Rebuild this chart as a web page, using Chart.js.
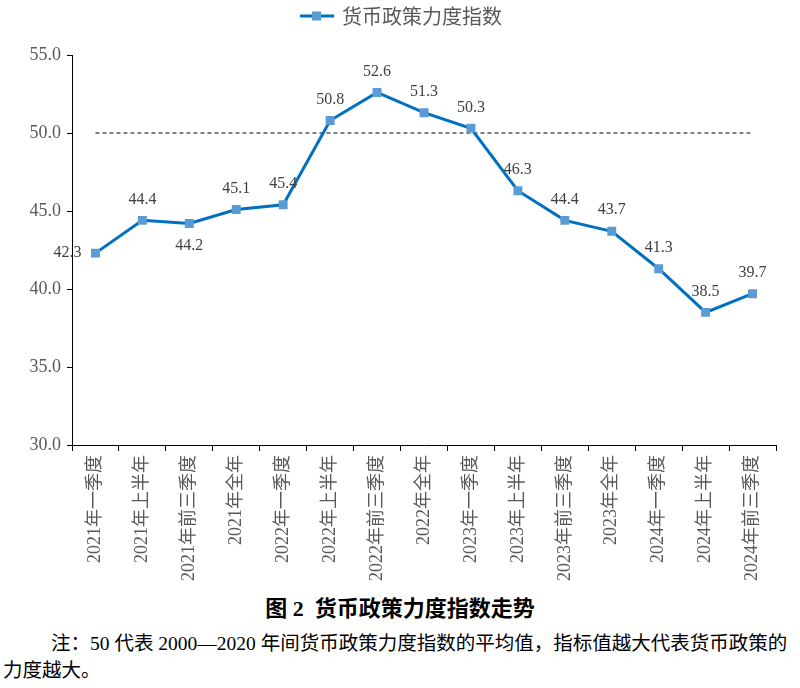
<!DOCTYPE html>
<html>
<head>
<meta charset="utf-8">
<script src="https://cdn.jsdelivr.net/npm/chart.js@4.4.1/dist/chart.umd.min.js"></script>
<style>
    html, body { margin: 0; padding: 0; background: #ffffff; }
    body { width: 800px; height: 688px; overflow: hidden; }
    .chart-box { position: relative; width: 800px; height: 590px; }
    .caption {
        text-align: center;
        font-family: 'Liberation Serif', 'Noto Sans CJK SC', serif;
        font-weight: bold;
        font-size: 22px;
        color: #000;
        margin-top: 4px;
        line-height: 30px;
    }
    .note {
        font-family: 'Liberation Serif', 'Noto Sans CJK SC', serif;
        font-size: 19.5px;
        color: #000;
        line-height: 27px;
        margin: 6px 0 0 3px;
        white-space: nowrap;
    }
    .note .first { padding-left: 48px; }
</style>
</head>
<body>
<div class="chart-box"><canvas id="mainChart"></canvas></div>
<div class="caption">图 2&nbsp; 货币政策力度指数走势</div>
<div class="note"><div class="first">注：50 代表 2000—2020 年间货币政策力度指数的平均值，指标值越大代表货币政策的</div><div>力度越大。</div></div>

<script>
const periods = [
    '2021年一季度', '2021年上半年', '2021年前三季度', '2021年全年',
    '2022年一季度', '2022年上半年', '2022年前三季度', '2022年全年',
    '2023年一季度', '2023年上半年', '2023年前三季度', '2023年全年',
    '2024年一季度', '2024年上半年', '2024年前三季度'
];
const policyIndex = [42.3, 44.4, 44.2, 45.1, 45.4, 50.8, 52.6, 51.3, 50.3, 46.3, 44.4, 43.7, 41.3, 38.5, 39.7];
const averageLine = [50, 50, 50, 50, 50, 50, 50, 50, 50, 50, 50, 50, 50, 50, 50];
const yTicks = [30, 35, 40, 45, 50, 55];

// where each value label sits relative to its point
const labelSide = ['left', 'up', 'down', 'up', 'up', 'up', 'up', 'up', 'up', 'up', 'up', 'up', 'up', 'up', 'up'];

const colors = {
    line: '#0070C0',
    marker: '#5B9BD5',
    text: '#595959',
    label: '#404040',
    axis: '#000000'
};

const serif = "'Liberation Serif', 'Noto Sans CJK SC', serif";

// legend symbol: line with a square in the middle
function legendSymbol() {
    const c = document.createElement('canvas');
    c.width = 34;
    c.height = 12;
    const g = c.getContext('2d');
    g.strokeStyle = colors.line;
    g.lineWidth = 3;
    g.beginPath();
    g.moveTo(0, 6);
    g.lineTo(34, 6);
    g.stroke();
    g.fillStyle = colors.marker;
    g.fillRect(12, 1.5, 9, 9);
    return c;
}

// the legend sits at the very top of the picture, a bit right of centre
const legendShift = {
    id: 'legendShift',
    afterLayout(chart) {
        const lg = chart.legend;
        if (!lg) return;
        const dy = lg.top;
        lg.top -= dy;
        lg.bottom -= dy;
        lg.left += 14;
        lg.right += 14;
    }
};

const valueLabels = {
    id: 'valueLabels',
    afterDatasetsDraw(chart) {
        const ctx = chart.ctx;
        const meta = chart.getDatasetMeta(0);
        ctx.save();
        ctx.font = '16px ' + serif;
        ctx.fillStyle = colors.label;
        ctx.textAlign = 'center';
        ctx.textBaseline = 'middle';
        meta.data.forEach((pt, i) => {
            let x = pt.x, y = pt.y;
            if (labelSide[i] === 'left') x -= 28;
            else if (labelSide[i] === 'down') y += 22;
            else y -= 21;
            ctx.fillText(policyIndex[i].toFixed(1), x, y);
        });
        ctx.restore();
    }
};

const ctx = document.getElementById('mainChart').getContext('2d');
const chart = new Chart(ctx, {
    type: 'line',
    data: {
        labels: periods,
        datasets: [
            {
                label: '货币政策力度指数',
                data: policyIndex,
                borderColor: colors.line,
                backgroundColor: colors.marker,
                borderWidth: 3,
                tension: 0,
                pointStyle: 'rect',
                pointRadius: 6.3,
                pointBackgroundColor: colors.marker,
                pointBorderColor: colors.marker,
                pointBorderWidth: 0,
                order: 1
            },
            {
                label: 'avg',
                data: averageLine,
                borderColor: '#000000',
                borderWidth: 1,
                borderDash: [4, 3],
                pointRadius: 0,
                tension: 0,
                order: 2
            }
        ]
    },
    options: {
        responsive: true,
        maintainAspectRatio: false,
        animation: false,
        layout: {
            padding: { top: 0, right: 24, left: 0, bottom: 0 }
        },
        plugins: {
            legend: {
                display: true,
                position: 'top',
                labels: {
                    filter: item => item.datasetIndex === 0,
                    usePointStyle: true,
                    pointStyle: legendSymbol(),
                    pointStyleWidth: 30,
                    color: colors.text,
                    font: { family: "'Noto Sans CJK SC', sans-serif", size: 20 },
                    padding: 6
                }
            },
            tooltip: { enabled: false }
        },
        scales: {
            x: {
                offset: true,
                grid: {
                    offset: true,
                    drawOnChartArea: false,
                    drawTicks: true,
                    tickLength: 6,
                    color: colors.axis
                },
                border: { display: true, color: colors.axis, width: 1 },
                ticks: {
                    minRotation: 90,
                    maxRotation: 90,
                    autoSkip: false,
                    padding: 4,
                    color: colors.text,
                    font: { family: serif, size: 18 }
                },
                afterFit(scale) { scale.height = 145; }
            },
            y: {
                min: yTicks[0],
                max: yTicks[yTicks.length - 1],
                afterBuildTicks(scale) { scale.ticks = yTicks.map(v => ({ value: v })); },
                grid: {
                    drawOnChartArea: false,
                    drawTicks: true,
                    tickLength: 5,
                    color: colors.axis
                },
                border: { display: true, color: colors.axis, width: 1 },
                ticks: {
                    padding: 6,
                    color: colors.text,
                    font: { family: serif, size: 18 },
                    callback: v => Number(v).toFixed(1)
                },
                afterFit(scale) {
                    scale.width = 72;
                    scale.paddingTop = 55;
                }
            }
        }
    },
    plugins: [legendShift, valueLabels]
});
</script>
</body>
</html>
